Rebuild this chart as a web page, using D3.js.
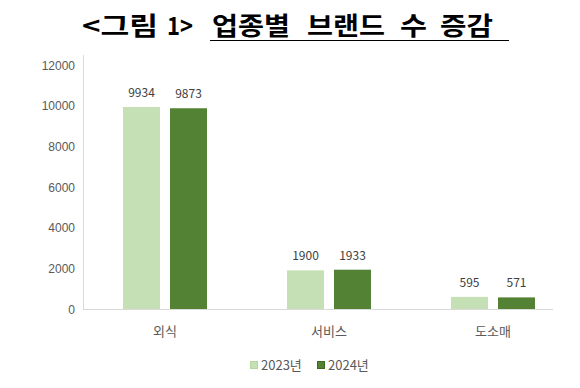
<!DOCTYPE html>
<html>
<head>
<meta charset="utf-8">
<script src="https://cdn.jsdelivr.net/npm/d3@7"></script>
<style>
  body { margin: 0; background: #fff; }
  svg { display: block; }
  .tick text { fill: #595959; font-size: 12px; }
</style>
</head>
<body>
<div id="chart"></div>
<script>
const categories = ['외식', '서비스', '도소매'];
const seriesNames = ['2023년', '2024년'];
const values2023 = [9934, 1900, 595];
const values2024 = [9873, 1933, 571];
const yTicks = [0, 2000, 4000, 6000, 8000, 10000, 12000];
const colors = ['#c5e0b4', '#548235'];
const titleWords = ['<그림', '1>', '업종별', '브랜드', '수', '증감'];

const width = 580;
const height = 388;
const font = '"Noto Sans CJK KR", "Noto Sans", sans-serif';

const svg = d3.select('#chart')
  .append('svg')
  .attr('width', width)
  .attr('height', height)
  .style('font-family', font);

// title, each word placed where it sits in the original
const titleSpans = [[82, 76], [167, 26], [212, 78], [307, 78], [400, 27], [440, 53]];
svg.selectAll('.tw')
  .data(titleWords)
  .enter()
  .append('text')
  .attr('x', (d, i) => titleSpans[i][0])
  .attr('y', 35)
  .attr('textLength', (d, i) => titleSpans[i][1])
  .attr('lengthAdjust', 'spacingAndGlyphs')
  .style('font-size', '25px')
  .style('font-weight', 'bold')
  .attr('fill', '#000')
  .text(d => d);
svg.append('line')
  .attr('x1', 210).attr('x2', 509)
  .attr('y1', 40.5).attr('y2', 40.5)
  .attr('stroke', '#000').attr('stroke-width', 1.2);

const x0 = d3.scaleBand().domain(categories).range([83, 575]);
const x1 = d3.scaleBand().domain(seriesNames).range([0, 84]).paddingInner(0.213);
const y = d3.scaleLinear().domain([0, 12000]).range([309, 65]);

const yAxis = d3.axisLeft(y).tickValues(yTicks).tickFormat(d3.format('d')).tickSize(0).tickPadding(8);
const gy = svg.append('g').attr('transform', 'translate(83,0)').call(yAxis);
gy.select('.domain').remove();
gy.selectAll('text').attr('dy', '0.35em');

// axis lines
svg.append('line')
  .attr('x1', 83.5).attr('x2', 83.5).attr('y1', 55).attr('y2', 309)
  .attr('stroke', '#d9d9d9');
svg.append('line')
  .attr('x1', 83).attr('x2', 553).attr('y1', 309.5).attr('y2', 309.5)
  .attr('stroke', '#d9d9d9');

const rows = categories.map((c, i) => ({
  cat: c,
  vals: [
    { s: seriesNames[0], v: values2023[i] },
    { s: seriesNames[1], v: values2024[i] }
  ]
}));

const groups = svg.selectAll('.grp')
  .data(rows)
  .enter()
  .append('g')
  .attr('transform', d => `translate(${x0(d.cat) + x0.bandwidth() / 2 - 42},0)`);

groups.selectAll('rect')
  .data(d => d.vals)
  .enter()
  .append('rect')
  .attr('x', d => x1(d.s))
  .attr('width', x1.bandwidth())
  .attr('y', d => y(d.v))
  .attr('height', d => 309 - y(d.v))
  .attr('fill', (d, i) => colors[i]);

groups.selectAll('.lbl')
  .data(d => d.vals)
  .enter()
  .append('text')
  .attr('x', d => x1(d.s) + x1.bandwidth() / 2)
  .attr('y', d => y(d.v) - 10)
  .attr('text-anchor', 'middle')
  .style('font-size', '12px')
  .attr('fill', '#404040')
  .text(d => d.v);

svg.selectAll('.cat')
  .data(categories)
  .enter()
  .append('text')
  .attr('x', d => x0(d) + x0.bandwidth() / 2)
  .attr('y', 336)
  .attr('text-anchor', 'middle')
  .style('font-size', '13px')
  .attr('fill', '#595959')
  .text(d => d);

// legend
const legend = svg.selectAll('.leg')
  .data(seriesNames)
  .enter()
  .append('g')
  .attr('transform', (d, i) => `translate(${250 + i * 67},0)`);
legend.append('rect')
  .attr('x', 0.5).attr('y', 361.5)
  .attr('width', 7).attr('height', 7)
  .attr('fill', (d, i) => colors[i])
  .attr('stroke', (d, i) => i ? '#3d6b26' : '#b5d6a0')
  .attr('stroke-width', 1);
legend.append('text')
  .attr('x', 11).attr('y', 370)
  .style('font-size', '13px')
  .attr('fill', '#595959')
  .text(d => d);
</script>
</body>
</html>
